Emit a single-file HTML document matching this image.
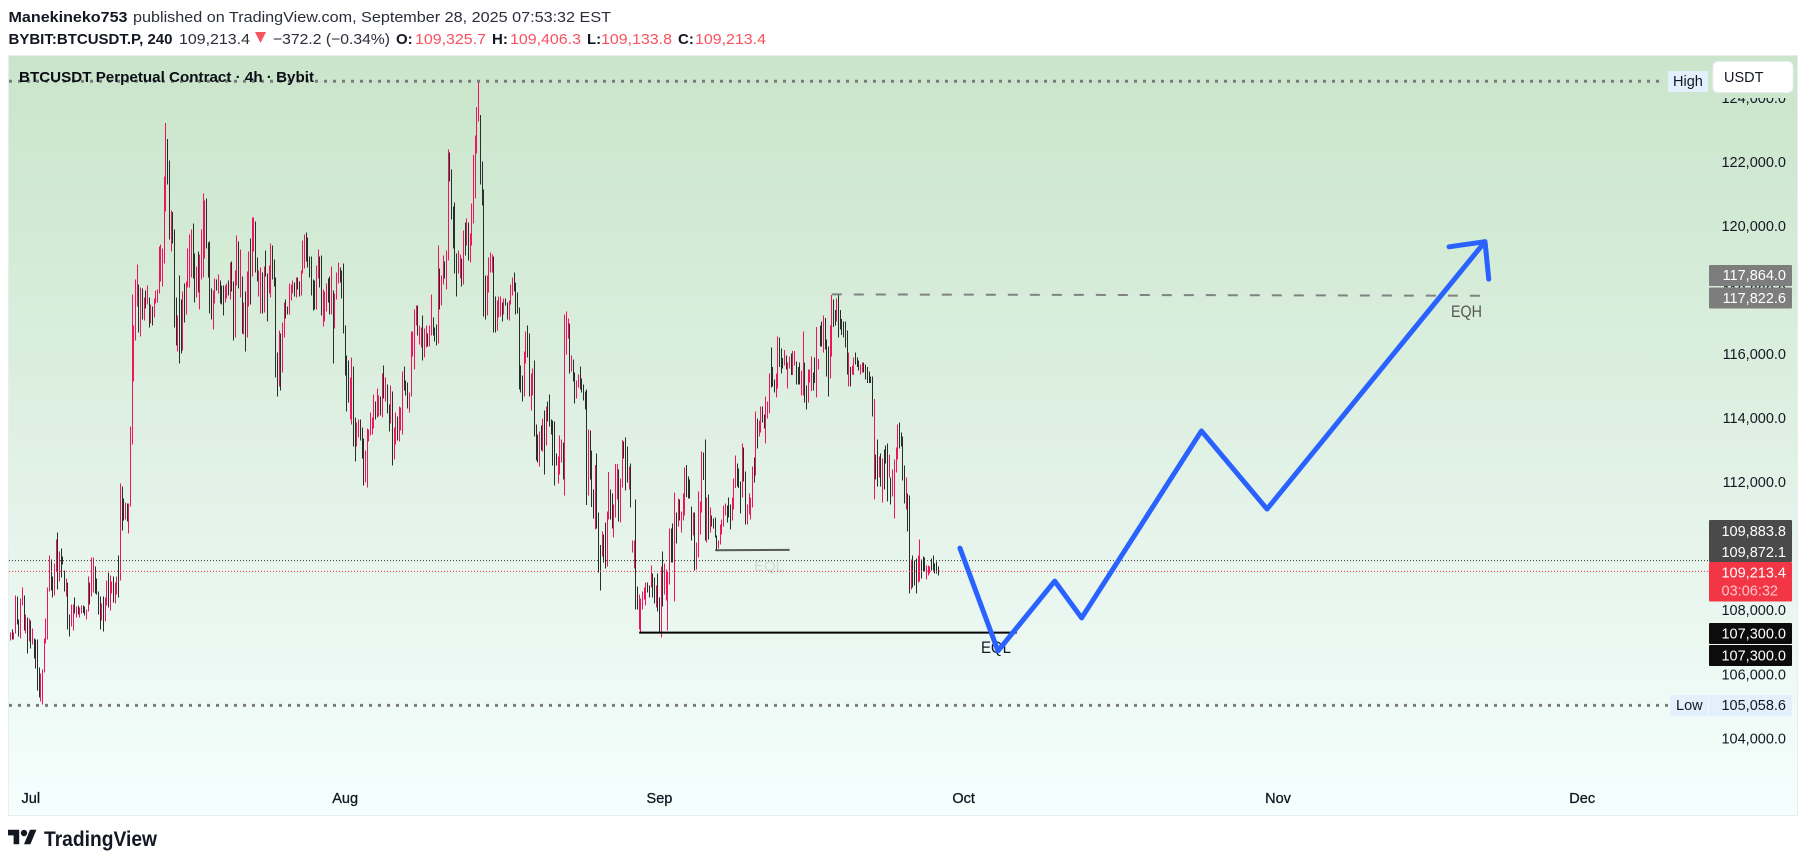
<!DOCTYPE html>
<html lang="en">
<head>
<meta charset="utf-8">
<title>BTCUSDT Perpetual Contract 4h chart</title>
<style>
html,body{margin:0;padding:0;background:#fff;width:1807px;height:862px;overflow:hidden}
svg{display:block;font-family:"Liberation Sans",sans-serif}
</style>
</head>
<body>
<svg id="chart" xmlns="http://www.w3.org/2000/svg" width="1807" height="862" viewBox="0 0 1807 862">
<defs>
<linearGradient id="paneFill" x1="0" y1="0" x2="0" y2="1">
<stop offset="0" stop-color="#cae5cb"/>
<stop offset="0.26" stop-color="#d4ebd6"/>
<stop offset="0.6" stop-color="#e4f3e9"/>
<stop offset="1" stop-color="#f5fffe"/>
</linearGradient>
</defs>
<g font-size="15" fill="#131722">
<text x="8.5" y="22" font-weight="bold" textLength="119" lengthAdjust="spacingAndGlyphs">Manekineko753</text>
<text x="133" y="22" fill="#2a2e39" textLength="478" lengthAdjust="spacingAndGlyphs">published on TradingView.com, September 28, 2025 07:53:32 EST</text>
<text x="8.5" y="44" font-weight="bold" textLength="164" lengthAdjust="spacingAndGlyphs">BYBIT:BTCUSDT.P, 240</text>
<text x="179" y="44" fill="#2a2e39" textLength="71" lengthAdjust="spacingAndGlyphs">109,213.4</text>
<path d="M255 32h11l-5.500 11z" fill="#f7525f"/>
<text x="273" y="44" fill="#2a2e39" textLength="117" lengthAdjust="spacingAndGlyphs">−372.2 (−0.34%)</text>
<text x="396" y="44" font-weight="bold">O:</text>
<text x="415" y="44" fill="#f7525f" textLength="71" lengthAdjust="spacingAndGlyphs">109,325.7</text>
<text x="492" y="44" font-weight="bold">H:</text>
<text x="510" y="44" fill="#f7525f" textLength="71" lengthAdjust="spacingAndGlyphs">109,406.3</text>
<text x="587" y="44" font-weight="bold">L:</text>
<text x="601" y="44" fill="#f7525f" textLength="71" lengthAdjust="spacingAndGlyphs">109,133.8</text>
<text x="678" y="44" font-weight="bold">C:</text>
<text x="695" y="44" fill="#f7525f" textLength="71" lengthAdjust="spacingAndGlyphs">109,213.4</text>
</g>
<rect x="8.500" y="55.500" width="1789" height="760" fill="url(#paneFill)" stroke="#e8eef0"/>
<g id="priceTicks" font-size="14.500" fill="#131722" text-anchor="end"></g>
<g id="monthTicks" font-size="14.500" fill="#131722" stroke="#131722" stroke-width="0.3" text-anchor="middle"></g>
<g id="bars"></g>
<g id="levels"></g>
<text x="754" y="571" font-size="15" fill="#000" fill-opacity="0.1" textLength="30" lengthAdjust="spacingAndGlyphs">EQL</text>
<text x="981" y="653" font-size="17" fill="#131722" textLength="30" lengthAdjust="spacingAndGlyphs">EQL</text>
<text x="1451" y="317" font-size="17" fill="#555" textLength="31" lengthAdjust="spacingAndGlyphs">EQH</text>
<g id="forecast"></g>
<text x="19" y="82" font-size="15" font-weight="bold" fill="#0b0e14" textLength="295" lengthAdjust="spacingAndGlyphs">BTCUSDT Perpetual Contract · 4h · Bybit</text>
<g font-size="14.500" fill="#131722">
<rect x="1668" y="71" width="40" height="21" fill="#e3effd"/>
<text x="1673" y="86">High</text>
<rect x="1670" y="695" width="38" height="21" rx="1" fill="#e3effd"/>
<text x="1676" y="710">Low</text>
<rect x="1709" y="695" width="83" height="21" rx="1" fill="#e3effd"/>
<text x="1786" y="710" text-anchor="end">105,058.6</text>
</g>
<rect x="1713" y="90" width="80" height="8" fill="#cde7ce"/>
<rect x="1713" y="61.500" width="80" height="31" rx="5" fill="#fff" stroke="#e9eef0"/>
<text x="1724" y="82" font-size="14.500" fill="#131722">USDT</text>
<g font-size="14.500" text-anchor="end" fill="#fff">
<rect x="1709" y="265" width="83" height="21" rx="1" fill="#7d7d7d"/>
<text x="1786" y="280">117,864.0</text>
<rect x="1709" y="287.500" width="83" height="21" rx="1" fill="#7d7d7d"/>
<text x="1786" y="303">117,822.6</text>
<rect x="1709" y="520" width="83" height="42" rx="1" fill="#4a4a4a"/>
<text x="1786" y="536">109,883.8</text>
<text x="1786" y="557">109,872.1</text>
<rect x="1709" y="562" width="83" height="39.500" rx="1" fill="#f23645"/>
<text x="1786" y="577.500">109,213.4</text>
<text x="1778" y="595.500" fill="#ffc4cb">03:06:32</text>
<rect x="1709" y="623" width="83" height="21" rx="1" fill="#0c0c0c"/>
<text x="1786" y="638.500">107,300.0</text>
<rect x="1709" y="645" width="83" height="21" rx="1" fill="#0c0c0c"/>
<text x="1786" y="660.500">107,300.0</text>
</g>
<g>
<path transform="translate(8,825) scale(.8)" fill="#131722" d="M14 6H0v7h7v11h7V6ZM28 24h-8l7.500-18h8L28 24Zm-8-18a4 4 0 1 1 0 8 4 4 0 0 1 0-8Z"/>
<text x="44" y="846" font-size="21" font-weight="bold" fill="#131722" textLength="113" lengthAdjust="spacingAndGlyphs">TradingView</text>
</g>
</svg>
<script>
// Prices are in thousands of USDT.
const barHighs = [
107.30,107.40,107.30,108.46,108.43,107.71,108.36,108.71,108.46,107.86,
107.77,107.74,107.68,107.43,107.11,107.08,107.08,106.21,106.02,106.15,
107.11,107.74,108.71,109.71,109.58,109.05,109.46,110.21,110.43,109.83,
109.93,109.68,109.24,108.99,108.86,107.86,108.18,108.18,108.40,108.11,
108.15,108.08,108.15,108.15,108.11,108.02,109.05,108.86,109.65,109.65,
109.37,108.99,108.58,108.43,108.21,108.43,108.40,108.93,109.18,109.08,
108.89,109.05,108.86,109.05,109.71,111.96,111.87,111.49,111.37,111.33,
111.33,113.74,
117.86,116.90,118.33,118.80,118.18,118.08,118.05,117.77,117.99,118.14,
117.77,117.55,117.49,117.74,117.99,118.02,119.36,119.43,119.30,121.55,
123.21,122.71,122.05,120.49,120.43,119.89,117.77,117.21,118.46,117.71,
117.96,118.21,118.27,119.30,119.74,119.89,120.08,119.14,118.74,119.21,
119.11,119.89,121.02,120.80,120.86,119.49,119.52,118.05,117.99,118.36,
118.33,118.49,118.30,118.14,118.14,118.14,118.21,118.30,118.86,118.89,
118.27,118.61,119.71,119.52,119.27,118.43,117.61,117.96,118.58,119.21,
119.61,120.27,120.27,120.14,119.02,118.61,118.71,118.55,118.74,119.24,
118.52,118.77,119.46,119.39,118.96,118.39,116.05,116.74,116.64,116.99,
117.61,117.71,117.49,118.21,118.18,118.30,118.24,118.39,118.39,118.27,
118.61,119.55,119.74,119.80,119.64,119.05,119.05,118.33,118.30,118.77,
119.27,119.05,119.08,118.02,117.96,118.21,118.36,118.43,118.74,117.99,
117.89,118.55,118.86,118.71,118.61,118.83,116.89,115.96,115.80,115.27,
115.89,115.61,114.02,113.86,113.96,113.96,113.71,113.36,112.99,113.68,
113.64,114.17,114.02,114.74,114.52,114.92,114.71,114.68,115.39,115.64,
115.27,115.05,114.43,115.02,114.83,113.71,114.18,114.05,114.36,114.33,
115.46,115.61,115.17,115.11,114.80,116.71,116.71,117.39,117.52,117.52,
116.89,116.83,117.21,116.80,116.89,116.64,116.89,117.86,117.14,116.83,
116.93,119.39,118.68,118.46,119.08,118.89,119.24,122.39,122.30,121.77,
120.61,120.74,119.14,119.24,119.11,118.99,119.86,120.11,120.24,120.11,
119.77,120.71,122.21,122.83,123.71,124.47,123.46,122.02,121.14,118.46,
118.46,119.02,119.18,119.11,119.05,117.80,117.68,117.80,117.80,117.61,
117.74,117.74,117.61,117.68,118.18,118.39,118.55,118.24,117.93,117.46,
115.64,115.33,116.08,116.71,116.89,116.64,115.39,115.55,115.80,113.80,
113.49,113.58,113.77,113.99,114.24,114.36,114.52,114.74,113.96,113.93,
113.89,112.89,112.80,113.46,113.33,113.24,117.24,117.33,117.11,116.96,
115.96,115.83,115.43,115.17,115.36,115.61,115.24,115.05,114.83,114.89,
113.64,113.61,
112.99,111.77,112.53,112.90,111.06,110.03,110.46,110.37,110.74,111.09,
112.31,111.77,111.65,111.31,112.56,112.56,112.40,112.12,113.31,113.27,
113.40,113.12,112.49,112.59,110.18,110.18,111.46,108.74,108.49,108.37,
108.59,108.71,108.87,108.87,108.77,109.40,109.15,109.02,108.77,109.15,
108.40,109.37,109.84,109.46,109.27,109.21,110.56,110.56,110.71,111.68,
111.06,111.49,111.46,111.09,111.65,112.46,112.53,112.18,112.09,111.24,
111.06,111.06,110.12,111.71,111.40,112.96,112.93,113.34,111.52,111.62,
111.21,110.96,110.87,110.90,110.34,110.18,110.68,110.84,111.27,111.34,
111.27,111.52,111.31,111.52,112.12,112.84,112.59,112.43,112.02,113.21,
113.09,112.34,111.31,111.65,111.52,112.49,112.77,
114.21,113.99,113.93,114.37,114.37,114.12,114.68,114.52,115.40,116.21,
115.59,115.21,115.40,116.55,116.52,116.18,115.87,116.12,115.96,115.74,
115.93,116.02,116.09,116.09,115.77,115.59,115.74,115.49,116.71,115.74,
115.02,115.52,115.52,115.93,115.43,115.90,116.84,115.84,116.90,117.02,
117.21,117.12,116.46,116.24,116.90,117.84,117.71,117.37,117.74,117.84,
117.37,117.10,117.02,117.02,116.74,116.05,115.59,115.65,115.90,116.05,
115.90,115.80,115.68,115.74,115.74,115.68,115.59,115.46,115.30,115.30,
114.59,112.87,113.34,112.80,112.90,112.74,113.02,113.15,113.21,112.87,
112.15,112.40,112.71,113.09,113.80,113.87,113.55,113.43,112.52,112.15,
111.65,111.59,109.59,109.71,109.55,109.62,109.71,110.21,109.59,109.68,
109.65,109.40,109.40,109.37,109.62,109.71,109.46,109.52,109.37
];
const barLows = [
107.05,107.08,107.08,107.27,107.55,107.18,107.11,108.15,107.36,107.27,
106.65,107.02,106.80,106.93,106.49,106.18,105.49,105.27,105.15,105.06,
106.05,106.96,107.08,108.58,108.61,108.40,108.46,109.19,108.65,108.89,
109.02,109.43,108.58,108.43,107.40,107.18,107.49,107.36,107.90,107.77,
107.86,107.77,107.90,107.91,107.83,107.71,107.96,108.18,108.43,108.55,
108.52,108.49,107.86,107.40,107.68,107.33,107.65,108.15,108.08,107.99,
108.52,108.24,108.21,108.49,108.40,108.93,110.49,110.80,110.83,110.77,
110.40,111.24,
113.18,115.14,116.43,117.49,116.68,116.55,117.08,117.05,117.43,117.55,
116.83,116.96,116.89,117.14,117.58,117.61,117.89,118.27,118.11,118.83,
120.46,121.30,119.58,119.21,119.46,116.83,116.27,116.08,115.71,116.02,
116.11,116.99,117.24,118.08,118.08,118.39,118.36,117.61,117.77,117.93,
117.39,118.33,118.39,118.99,119.30,118.39,117.27,117.08,116.77,117.58,
117.99,117.89,117.58,117.55,117.21,117.61,117.74,117.83,117.71,117.96,
116.43,116.52,118.14,118.05,117.77,116.64,116.61,116.08,116.52,117.49,
117.55,118.43,119.21,118.55,118.27,117.80,117.27,117.27,117.30,118.43,
117.02,117.89,117.77,118.33,118.11,115.27,114.68,114.99,114.86,115.43,
116.52,117.11,117.24,117.24,117.68,117.89,117.80,117.77,118.02,117.80,
117.83,118.52,118.68,118.89,118.71,118.39,117.83,117.36,117.39,117.39,
118.36,118.08,117.21,116.86,117.02,117.33,117.61,117.24,117.24,115.71,
116.80,117.71,118.21,118.24,117.74,116.64,115.33,114.21,114.49,113.96,
113.80,113.11,112.64,113.11,113.39,113.30,112.74,111.89,111.99,111.83,
113.27,113.46,113.49,113.68,113.96,114.02,114.05,114.08,114.02,114.61,
114.52,114.14,113.58,113.83,112.52,112.71,113.18,113.30,113.27,113.61,
113.49,114.86,114.71,114.30,114.18,114.68,115.93,115.52,116.89,116.58,
116.30,116.21,115.80,115.89,116.21,116.24,116.24,116.58,116.58,116.39,
116.27,116.33,117.39,117.52,118.18,118.36,118.02,118.93,121.39,120.21,
119.30,118.52,117.80,118.52,118.36,118.11,118.18,119.08,119.39,118.93,
118.86,119.39,120.08,120.86,122.27,123.27,121.30,120.64,117.17,117.08,
117.21,117.93,118.55,118.55,116.68,116.68,116.74,117.14,117.17,117.02,
117.24,117.52,117.08,117.05,117.55,117.83,117.96,117.24,117.27,114.89,
114.80,114.52,114.68,115.71,115.89,114.68,114.24,114.71,113.43,112.68,
112.61,112.49,112.99,112.96,112.24,113.14,113.89,113.74,113.49,112.52,
111.89,112.52,111.96,112.24,112.61,112.08,111.58,115.99,116.49,115.39,
115.46,115.14,114.46,114.61,114.96,114.89,114.80,114.55,114.27,111.28,
111.58,112.08,
111.22,110.87,110.52,110.56,109.18,108.62,109.68,109.49,109.31,109.37,
110.84,110.84,110.56,110.27,110.90,111.46,110.77,110.74,111.84,112.74,
111.74,111.99,111.77,111.21,109.81,109.31,108.02,108.02,107.40,107.27,
108.02,108.34,108.15,108.56,108.40,108.71,108.40,108.21,108.09,107.96,
107.27,107.15,108.12,108.49,108.31,107.37,108.81,109.49,109.49,108.27,
110.09,110.62,110.81,110.43,110.81,110.96,111.53,111.49,111.49,110.18,
110.34,109.24,109.27,109.65,110.37,111.06,112.06,110.18,110.12,110.21,
110.43,110.62,110.56,110.27,109.87,109.93,110.06,110.37,110.62,110.96,
110.74,110.90,110.52,110.81,111.15,111.81,111.87,111.81,111.02,111.52,
112.02,110.68,110.68,110.99,110.84,111.21,111.99,
112.21,113.05,113.43,113.55,113.87,113.68,113.21,113.99,114.15,114.96,
114.99,114.80,114.65,114.93,115.59,115.40,115.55,115.65,115.52,114.93,
115.55,115.34,115.34,115.65,115.05,115.05,115.05,114.71,114.71,114.49,
114.27,114.49,115.12,114.84,114.87,115.09,114.65,115.52,116.24,116.24,
116.05,116.15,115.30,114.68,115.24,115.93,116.84,116.90,117.02,116.52,
116.77,116.60,116.52,116.21,115.37,114.99,114.99,115.37,115.34,115.68,
115.59,115.49,115.37,115.43,115.43,115.21,115.09,115.09,115.09,114.05,
111.46,112.09,111.87,112.15,111.87,111.37,111.77,112.59,111.40,112.15,
111.30,111.55,110.87,112.30,112.71,113.05,113.12,112.05,111.34,111.15,
110.46,108.52,108.65,108.71,108.77,108.52,108.87,108.90,108.99,109.21,
109.21,108.96,109.09,109.15,109.24,109.24,109.15,109.15,109.09
];
// r = pink candle, k = black candle
const barColors = (
"rkrrkkrrkr"+"krkrkkkkrr"+"rrrrkkrrkr"+"kkkrkkrrkr"+"krrkkrrkrr"+"kkkkrkrrkr"+"rkrrkrkkrk"+"rr"+
"rrrrkrkrkr"+"krkrrrrrrr"+"rkkrkkkrkk"+"rkrrrrkkrk"+"rrrrkkkkrr"+"krkkkrrkrk"+"krrkrkrkrr"+"krrkkrrkrk"+"krrkkkkrkr"+"rkkrrrkrkk"+
"rrrkkkkkkr"+"rkkrrrkkrk"+"rrrkkkkkkr"+"rkkrrkkkrr"+"rrrrkrrkrk"+"rkkrkrrkrr"+"rkkkrrrrrk"+"rrkrrkrrkk"+"krkrrkrrkk"+"kkkrrkrkrk"+"rrrrrrkkkk"+"rrrrkkrrrk"+"rkkrrrkkkk"+"kkrrkkrrkk"+"krkrkrkkkk"+"kkrrrkrrrk"+"rkkrrkkkkk"+"rk"+
"kkrkkkrkkr"+"rkkrrrkrrk"+"kkrkrrkkrr"+"rrrkkrkkrk"+"krkrrrrkkr"+"krkrrrkkkk"+"rkrrrrkkrk"+"rkkkkrrrrr"+"kkkrrrkkkr"+"kkrrrrk"+
"rkrrkkrrrk"+"kkrrkkkrkr"+
"rkrrkkkrrk"+"krrrkkrrkk"+"rkkkrrkkrk"+"kkkkkrkrrk"+"kkrrkkkkkk"+"rkkrkrkkkr"+"krrrrkkkkr"+"kkrkkkrrkk"+"krrrkkkk"
).split("");
const tickPrices = [124,122,120,118,116,114,112,110,108,106,104];
const tickLabels = ["124,000.0","122,000.0","120,000.0","118,000.0","116,000.0","114,000.0","112,000.0","110,000.0","108,000.0","106,000.0","104,000.0"];
const monthLabels = ["Jul","Aug","Sep","Oct","Nov","Dec"];
const monthBars = [12,198,384,564,750,930];
const forecastBars = [561.8,584.3,617.9,633.8,704.7,743.5,872.5];
const forecastPrices = [109.94,106.73,108.91,107.76,113.60,111.16,119.51];
const arrowBars = [851.2,872.5,874.7];
const arrowPrices = [119.35,119.51,118.34];
const highPrice = 124.52;
const lowPrice = 105.0586;
const previousClose = 109.55;
const lastPrice = 109.2134;

const SVGNS = "http://www.w3.org/2000/svg";
function xOf(i){ return 10.5 + 1.69 * i; }
function yOf(p){ return 226 + (120 - p) * 32.02; }
function make(tag, attrs, parent){
  const el = document.createElementNS(SVGNS, tag);
  for (const k in attrs) el.setAttribute(k, attrs[k]);
  parent.appendChild(el);
  return el;
}

const tickGroup = document.getElementById("priceTicks");
tickPrices.forEach(function(p, i){
  const t = make("text", {x:1786, y:yOf(p)+5}, tickGroup);
  t.textContent = tickLabels[i];
  
  
});

const monthGroup = document.getElementById("monthTicks");
monthLabels.forEach(function(m, i){
  const t = make("text", {x:xOf(monthBars[i]), y:803}, monthGroup);
  t.textContent = m;
  
  
});

const barGroup = document.getElementById("bars");
barHighs.forEach(function(h, i){
  const top = yOf(h);
  const bottom = yOf(barLows[i]);
  const r = make("rect", {
    x:Math.floor(xOf(i)), y:top, width:1, height:Math.max(1, bottom-top),
    fill:barColors[i]==="r" ? "#f0135f" : "#2a2e2b",
    "shape-rendering":"crispEdges"
  }, barGroup);
  
  
});

const levelGroup = document.getElementById("levels");
function level(name, x1, x2, p1, p2, style){
  const l = make("line", Object.assign({x1:x1, x2:x2, y1:yOf(p1), y2:yOf(p2)}, style), levelGroup);
  
  
}
level("high-line", 9, 1665, highPrice, highPrice, {stroke:"#7a7c80","stroke-width":3,"stroke-dasharray":"3 6"});
level("low-line", 9, 1668, lowPrice-0.03, lowPrice-0.03, {stroke:"#7a7c80","stroke-width":3,"stroke-dasharray":"3 6"});
level("previous-close-line", 9, 1709, previousClose, previousClose, {stroke:"#333","stroke-width":1,"stroke-dasharray":"1 2"});
level("last-price-line", 9, 1709, lastPrice, lastPrice, {stroke:"#f23645","stroke-width":1,"stroke-dasharray":"1 2"});
level("eql-small-line", xOf(417), xOf(461), 109.872, 109.8838, {stroke:"#333","stroke-opacity":0.8,"stroke-width":2});
level("eql-line", xOf(372), xOf(595.4), 107.3, 107.3, {stroke:"#050505","stroke-width":2});
level("eqh-line", xOf(486), xOf(869.5), 117.864, 117.8226, {stroke:"#7f8280","stroke-width":2,"stroke-dasharray":"10 12"});

const forecastGroup = document.getElementById("forecast");
function polyline(name, bars, prices){
  const pts = bars.map(function(b, i){ return xOf(b) + "," + yOf(prices[i]); }).join(" ");
  const p = make("polyline", {points:pts, fill:"none", stroke:"#2962ff", "stroke-width":5, "stroke-linecap":"round", "stroke-linejoin":"round"}, forecastGroup);
  
  
}
polyline("forecast-line", forecastBars, forecastPrices);
polyline("forecast-arrowhead", arrowBars, arrowPrices);
</script>
</body>
</html>
